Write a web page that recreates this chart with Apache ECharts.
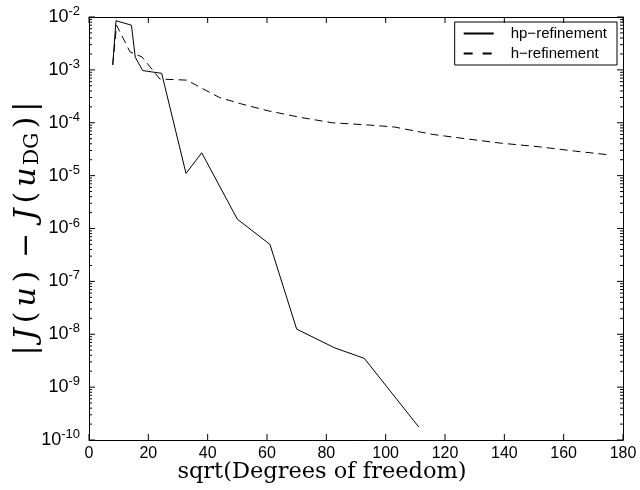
<!DOCTYPE html>
<html>
<head>
<meta charset="utf-8">
<script src="https://cdn.jsdelivr.net/npm/echarts@6/dist/echarts.min.js"></script>
<style>html,body{margin:0;padding:0;background:#fff}#c{width:640px;height:490px}</style>
</head>
<body>
<div id="c"></div>
<script>
// hp-refinement: sqrt(DOF) vs error
const hpX = [8.0, 9.1, 14.3, 15.6, 18.1, 24.5, 32.7, 38.0, 50.0, 61.0, 70.0, 82.9, 92.8, 111.2];
const hpY = [1.24e-3, 8.5e-3, 7.0e-3, 1.73e-3, 9.7e-4, 8.6e-4, 1.1e-5, 2.7e-5, 1.5e-6, 5.0e-7, 1.25e-8, 5.5e-9, 3.5e-9, 1.75e-10];
// h-refinement
const hX = [8.0, 9.3, 13.8, 17.9, 23.9, 33.0, 38.0, 44.0, 51.0, 60.0, 71.0, 82.0, 95.0, 103.0, 116.0, 128.0, 139.0, 152.0, 164.0, 176.0];
const hY = [1.24e-3, 7.0e-3, 2.2e-3, 1.75e-3, 6.7e-4, 6.4e-4, 4.5e-4, 3.0e-4, 2.3e-4, 1.7e-4, 1.27e-4, 1.0e-4, 9.0e-5, 8.3e-5, 6.0e-5, 4.9e-5, 4.1e-5, 3.5e-5, 2.9e-5, 2.45e-5];
const seriesNames = ['hp\u2212refinement', 'h\u2212refinement'];
const xTicks = [0, 20, 40, 60, 80, 100, 120, 140, 160, 180];
const yExponents = [-10, -9, -8, -7, -6, -5, -4, -3, -2];
const minorMantissas = [2, 3, 4, 5, 6, 7, 8, 9];

const yMin = Math.pow(10, yExponents[0]);
const yMax = Math.pow(10, yExponents[yExponents.length - 1]);
const xMin = xTicks[0], xMax = xTicks[xTicks.length - 1];

// tick marks, one line per item, positioned through the axes' scales
// kind 0: x bottom, 1: x top, 2: y major left, 3: y major right, 4: y minor left, 5: y minor right
const tickData = [];
xTicks.forEach(t => { tickData.push([t, yMin, 0]); tickData.push([t, yMax, 1]); });
yExponents.forEach(e => { const v = Math.pow(10, e); tickData.push([xMin, v, 2]); tickData.push([xMax, v, 3]); });
for (let k = 0; k < yExponents.length - 1; k++) {
  for (const m of minorMantissas) {
    const v = +(m * Math.pow(10, yExponents[k])).toPrecision(3);
    tickData.push([xMin, v, 4]); tickData.push([xMax, v, 5]);
  }
}

const chart = echarts.init(document.getElementById('c'), null, {renderer: 'canvas'});
const tickFont = 'Liberation Sans, Arial, sans-serif';
const serif = 'DejaVu Serif, Liberation Serif, serif';

const option = {
  backgroundColor: '#fff',
  animation: false,
  grid: {left: 89, right: 17, top: 17, bottom: 50, containLabel: false, outerBoundsMode: 'none'},
  legend: {
    orient: 'vertical', right: 23, top: 22,
    backgroundColor: '#fff', borderColor: '#000', borderWidth: 1, borderRadius: 0,
    padding: [4, 10, 4, 8], itemGap: 5, itemWidth: 30, itemHeight: 14,
    itemStyle: {opacity: 0},
    textStyle: {fontSize: 15, fontFamily: tickFont, color: '#000', padding: [0, 0, 0, 12]},
    data: [
      {name: seriesNames[0]},
      {name: seriesNames[1], lineStyle: {type: [9, 10]}}
    ]
  },
  xAxis: [{
    type: 'value', min: xMin, max: xMax, interval: 20, position: 'bottom',
    name: 'sqrt(Degrees of freedom)', nameLocation: 'middle', nameGap: 21, nameMoveOverlap: false,
    nameTextStyle: {fontSize: 22.5, fontFamily: serif, color: '#000', verticalAlign: 'top', padding: [0, 68, 0, 0]},
    axisLine: {show: true, onZero: false, lineStyle: {color: '#000', width: 1}},
    splitLine: {show: false},
    axisTick: {show: false},
    axisLabel: {show: true, margin: 6, fontSize: 16, fontFamily: tickFont, color: '#000'}
  }, {
    type: 'value', min: xMin, max: xMax, interval: 20, position: 'top',
    axisLine: {show: true, onZero: false, lineStyle: {color: '#000', width: 1}},
    splitLine: {show: false},
    axisTick: {show: false},
    axisLabel: {show: false}
  }],
  yAxis: [{
    type: 'log', logBase: 10, min: yMin, max: yMax, position: 'left',
    axisLine: {show: true, onZero: false, lineStyle: {color: '#000', width: 1}},
    splitLine: {show: false},
    axisTick: {show: false},
    axisLabel: {
      show: true, margin: 9, color: '#000',
      formatter: v => '{b|10}{s|' + Math.round(Math.log10(v)) + '}',
      rich: {
        b: {fontSize: 18, fontFamily: tickFont, color: '#000'},
        s: {fontSize: 13, fontFamily: tickFont, color: '#000', padding: [0, 0, 11, 0]}
      }
    },
    name: '{t||}{i|J}{t|(}{i|u}{t|)}{m|\u2212}{i|J}{t|(}{i|u}{sb|DG}{t|)}{t||}',
    nameLocation: 'middle', nameGap: 46, nameRotate: 90, nameMoveOverlap: false,
    nameTextStyle: {
      color: '#000',
      rich: {
        t: {fontSize: 30, fontFamily: serif, color: '#000', padding: [0, 2.5, 0, 2.5]},
        i: {fontSize: 30, fontFamily: serif, fontStyle: 'italic', color: '#000', padding: [0, 2.5, 0, 2.5]},
        m: {fontSize: 30, fontFamily: serif, color: '#000', padding: [0, 10, 0, 10]},
        sb: {fontSize: 20, fontFamily: serif, color: '#000', padding: [11, 2, 0, 0]}
      }
    }
  }, {
    type: 'log', logBase: 10, min: yMin, max: yMax, position: 'right',
    axisLine: {show: true, onZero: false, lineStyle: {color: '#000', width: 1}},
    splitLine: {show: false},
    axisTick: {show: false},
    axisLabel: {show: false}
  }],
  series: [{
    name: seriesNames[0], type: 'line', xAxisIndex: 0, yAxisIndex: 0,
    data: hpX.map((x, i) => [x, hpY[i]]),
    showSymbol: false, symbol: 'none',
    lineStyle: {color: '#000', width: 1, type: 'solid'},
    itemStyle: {color: '#000'}
  }, {
    name: seriesNames[1], type: 'line', xAxisIndex: 0, yAxisIndex: 0,
    data: hX.map((x, i) => [x, hY[i]]),
    showSymbol: false, symbol: 'none',
    lineStyle: {color: '#000', width: 1, type: [8, 5]},
    itemStyle: {color: '#000'}
  }, {
    name: 'axisTicks', type: 'custom', xAxisIndex: 0, yAxisIndex: 0,
    data: tickData,
    silent: true, clip: false, z: 5,
    renderItem: function (params, api) {
      const kind = api.value(2);
      const p = api.coord([api.value(0), api.value(1)]);
      let dx = 0, dy = 0;
      if (kind === 0) dy = -6;
      else if (kind === 1) dy = 6;
      else if (kind === 2) dx = 6;
      else if (kind === 3) dx = -6;
      else if (kind === 4) dx = 3;
      else dx = -3;
      return {type: 'line', shape: {x1: p[0], y1: p[1], x2: p[0] + dx, y2: p[1] + dy}, style: {stroke: '#000', lineWidth: 1}};
    }
  }]
};
chart.setOption(option);
</script>
</body>
</html>
